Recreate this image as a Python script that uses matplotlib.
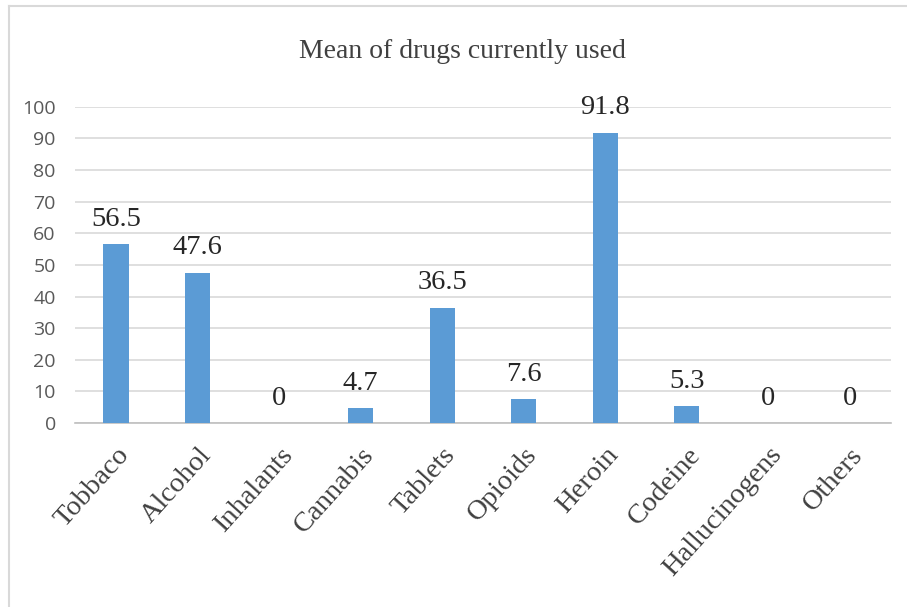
import matplotlib
matplotlib.use("Agg")
import matplotlib.pyplot as plt
from matplotlib.lines import Line2D

# =============== Data ===============
CATEGORIES = ["Tobbaco", "Alcohol", "Inhalants", "Cannabis", "Tablets",
              "Opioids", "Heroin", "Codeine", "Hallucinogens", "Others"]
VALUES = [56.5, 47.6, 0, 4.7, 36.5, 7.6, 91.8, 5.3, 0, 0]
Y_TICKS = [0, 10, 20, 30, 40, 50, 60, 70, 80, 90, 100]
TITLE = "Mean of drugs currently used"

# =============== Style ===============
BAR_COLOR = "#5B9BD5"
GRID_COLOR = "#D9D9D9"
AXIS_COLOR = "#BFBFBF"
TICK_COLOR = "#595959"
SERIF = ["Liberation Serif", "DejaVu Serif"]
SANS = ["Open Sans", "DejaVu Sans"]

fig = plt.figure(figsize=(9.07, 6.07), dpi=100)
ax = fig.add_axes([0.083, 0.303, 0.899, 0.521])

x = range(len(CATEGORIES))
bars = ax.bar(x, VALUES, width=0.31, color=BAR_COLOR, zorder=3)

ax.set_xlim(-0.5, len(CATEGORIES) - 0.5)
ax.set_ylim(0, 100)
ax.set_yticks(Y_TICKS)
ax.yaxis.grid(True, color=GRID_COLOR, linewidth=1.2, zorder=0)
ax.set_axisbelow(True)

for spine in ["top", "right", "left"]:
    ax.spines[spine].set_visible(False)
ax.spines["bottom"].set_color(AXIS_COLOR)
ax.spines["bottom"].set_linewidth(1.2)
ax.tick_params(axis="both", length=0)
ax.tick_params(axis="y", pad=14)

for lbl in ax.get_yticklabels():
    lbl.set_fontfamily(SANS)
    lbl.set_fontsize(14)
    lbl.set_color(TICK_COLOR)

ax.set_xticks(list(x))
ax.set_xticklabels(CATEGORIES, rotation=48, ha="right", rotation_mode="anchor",
                   fontsize=20.5, family=SERIF, color="#404040")
ax.tick_params(axis="x", pad=14)

# value labels above bars
for rect, v in zip(bars, VALUES):
    ax.annotate(f"{v:g}", (rect.get_x() + rect.get_width() / 2, v),
                xytext=(0, 9), textcoords="offset points",
                ha="center", va="bottom", fontsize=20.5, family=SERIF,
                color="#262626")

fig.text(0.51, 0.915, TITLE, ha="center", va="center", fontsize=20,
         family=SERIF, color="#404040")

# outer chart frame (cropped on right and bottom)
fig.add_artist(Line2D([0.0099, 0.0099], [0, 0.99], transform=fig.transFigure,
                      color=GRID_COLOR, linewidth=1.5))
fig.add_artist(Line2D([0.0099, 1.0], [0.99, 0.99], transform=fig.transFigure,
                      color=GRID_COLOR, linewidth=1.5))

fig.savefig("out.png", dpi=100)
